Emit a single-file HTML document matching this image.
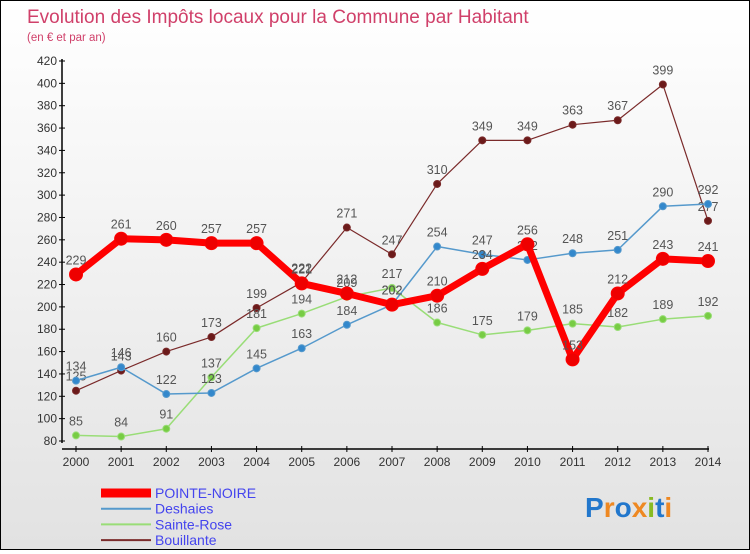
<!DOCTYPE html>
<html><head><meta charset="utf-8"><style>
body{margin:0;width:750px;height:550px;overflow:hidden;font-family:"Liberation Sans",sans-serif}
#wrap{position:absolute;left:0;top:0;width:748px;height:548px;border:1px solid #000;background:linear-gradient(#fff,#e2e2e2)}
</style></head><body>
<div id="wrap">
<svg id="chart" width="748" height="548"></svg>
</div>
<script>
const years=["2000","2001","2002","2003","2004","2005","2006","2007","2008","2009","2010","2011","2012","2013","2014"];
const yTicks=[80,100,120,140,160,180,200,220,240,260,280,300,320,340,360,380,400,420];
const pointeNoire=[229,261,260,257,257,221,212,202,210,234,256,153,212,243,241];
const deshaies=[134,146,122,123,145,163,184,202,254,247,242,248,251,290,292];
const sainteRose=[85,84,91,137,181,194,209,217,186,175,179,185,182,189,192];
const bouillante=[125,143,160,173,199,222,271,247,310,349,349,363,367,399,277];
const seriesNames=["POINTE-NOIRE","Deshaies","Sainte-Rose","Bouillante"];
const NS="http://www.w3.org/2000/svg";
const svg=document.getElementById('chart');
function X(i){return 75+i*(707-75)/14;}
function Y(v){return 440-(v-80)*380/340;}
function el(t,a,txt){const e=document.createElementNS(NS,t);for(const k in a)e.setAttribute(k,a[k]);if(txt!==undefined)e.textContent=txt;svg.appendChild(e);return e;}
let t=el('text',{x:26,y:22,'font-size':19,fill:'#d0406a'},'Evolution des Impôts locaux pour la Commune par Habitant');

t=el('text',{x:26,y:40,'font-size':11.5,fill:'#d0406a'},'(en € et par an)');

let a=el('line',{x1:61,y1:58,x2:61,y2:442,stroke:'#000','stroke-width':1.5});

a=el('line',{x1:61,y1:448,x2:708,y2:448,stroke:'#000','stroke-width':1.5});

yTicks.forEach(v=>{
 const l=el('line',{x1:58,x2:64,y1:Y(v),y2:Y(v),stroke:'#000'});
 
 const tx=el('text',{x:56,y:Y(v)+4,'font-size':12,fill:'#333','text-anchor':'end'},v);
 
});
years.forEach((y,i)=>{
 const l=el('line',{x1:X(i),x2:X(i),y1:445,y2:451,stroke:'#000'});
 
 const tx=el('text',{x:X(i),y:465,'font-size':12,fill:'#333','text-anchor':'middle'},y);
 
});
function draw(data,color,w,r,fill,name){
 const p=el('polyline',{points:data.map((v,i)=>X(i)+','+Y(v)).join(' '),fill:'none',stroke:color,'stroke-width':w,'stroke-linejoin':'round'});
 
 data.forEach((v,i)=>{
  const c=el('circle',{cx:X(i),cy:Y(v),r:r,fill:fill,stroke:color,'stroke-width':1});
  
  const tx=el('text',{x:X(i),y:Y(v)-10,'font-size':12.5,fill:'#555','text-anchor':'middle'},v);
  
 });
}
draw(bouillante,'#7a2a2a',1.2,3.5,'#6b1a1a','bouillante');
draw(sainteRose,'#99dd77',1.5,3.5,'#77cc44','sainte-rose');
draw(deshaies,'#5599cc',1.5,3.5,'#3388cc','deshaies');
draw(pointeNoire,'#ff0000',7,6.5,'#ee0000','pointe-noire');
const legColors=['#ff0000','#5599cc','#99dd77','#7a2a2a'];
const legW=[9,2,2,2];
seriesNames.forEach((n,i)=>{
 const y=492+i*15.7;
 const l=el('line',{x1:100,x2:150,y1:y,y2:y,stroke:legColors[i],'stroke-width':legW[i]});
 
 const tx=el('text',{x:154,y:y+5,'font-size':14,fill:'#4444ee'},n);
 
});
const logo=el('text',{x:584,y:516,'font-size':28,'font-weight':'bold',fill:'#3399dd'},'');

[['P','#2277cc'],['r','#ee8822'],['o','#2277cc'],['x','#ee8822'],['i','#88bb22'],['t','#2277cc'],['i','#ee8822']].forEach(([c,f])=>{const s=document.createElementNS(NS,'tspan');s.setAttribute('fill',f);s.textContent=c;logo.appendChild(s);});
</script>
</body></html>
